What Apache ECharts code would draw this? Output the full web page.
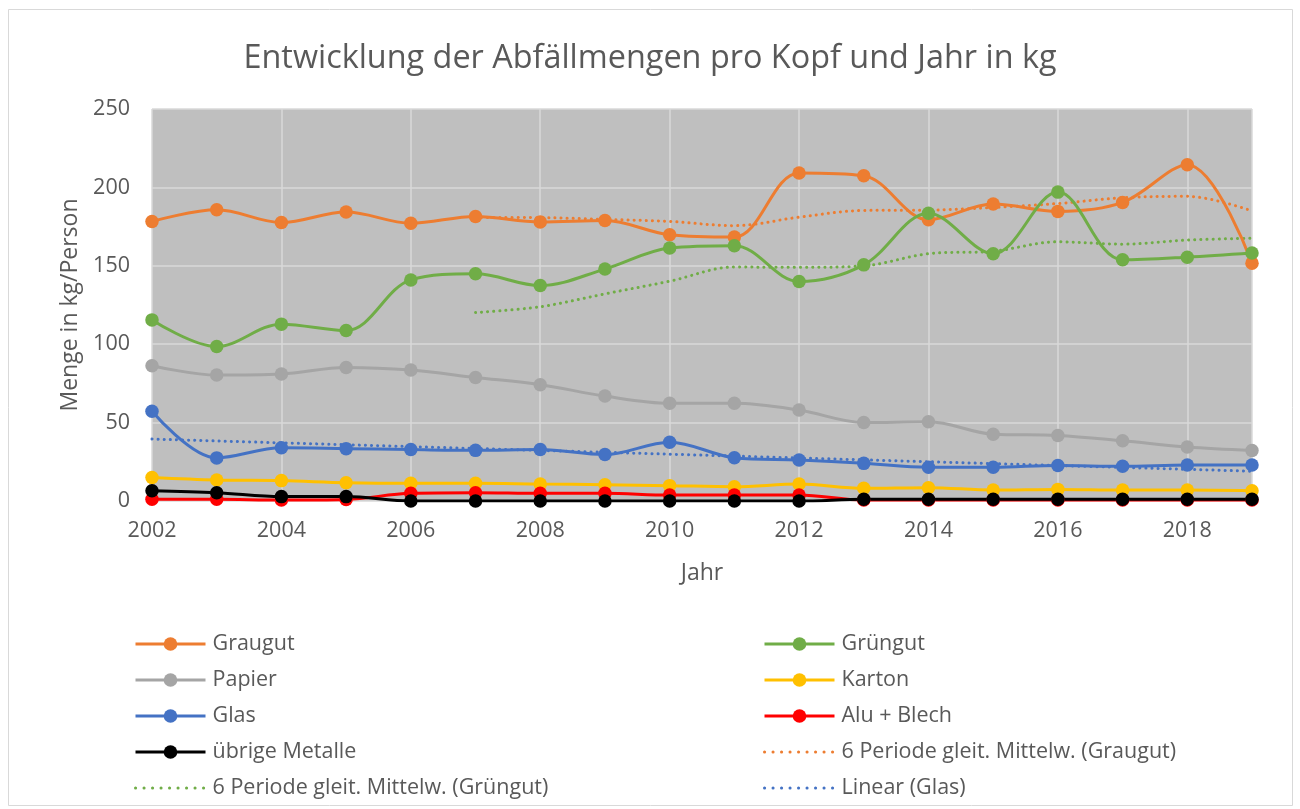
<!DOCTYPE html>
<html>
<head>
<meta charset="utf-8">
<script src="https://cdn.jsdelivr.net/npm/echarts@6/dist/echarts.min.js"></script>
<style>
html,body{margin:0;padding:0;background:#fff;}
#chart{width:1300px;height:809px;}
</style>
</head>
<body>
<div id="chart"></div>
<script>
// ---- data ----
const years = [2002,2003,2004,2005,2006,2007,2008,2009,2010,2011,2012,2013,2014,2015,2016,2017,2018,2019];
const graugut = [178.3,185.7,177.6,184.3,177.2,181.5,178,178.9,169.8,168.3,209.2,207.4,179.4,189.4,184.7,190.4,214.5,151.7];
const gruengut = [115.5,98.5,112.8,108.7,141,144.9,137.4,147.9,161.3,162.8,140,150.6,183.5,157.7,197,153.8,155.5,158.1];
const papier = [86.3,80.3,81,85.2,83.5,78.8,74.2,66.9,62.3,62.3,58,50,50.6,42.6,41.8,38.4,34.4,32.2];
const karton = [15,13.4,13,11.7,11.3,11.3,10.8,10.4,9.8,9.1,10.8,8.1,8.5,7,7.4,7,7,6.6];
const glas = [57.3,27.5,33.9,33.4,32.8,32.3,32.8,29.6,37.5,27.6,26.1,24,21.5,21.5,22.7,22.1,23,23];
const aluBlech = [1.1,1.1,0.6,1,4.9,5.3,4.9,4.9,3.8,3.8,3.8,0.6,0.6,0.6,0.6,0.6,0.6,0.6];
const uebrigeMetalle = [6.6,5.3,2.8,2.8,0,0,0,0,0,0,0,1.1,1.1,1.1,1.1,1.1,1.1,1.1];
const maGraugut = [null,null,null,null,null,180.8,180.7,179.6,178.3,175.6,181,185.3,185.5,187.2,189.7,193.4,194.3,185];
const maGruengut = [null,null,null,null,null,120.2,123.9,132.1,140.2,149.2,149,150,157.7,159.3,165.3,163.8,166.4,167.6];
const linGlasYears = [2002,2019];
const linGlas = [39.5,19];
const yTicks = {min:0,max:250,interval:50};

const FONT = 'Open Sans';
const TXT = '#595959';
const LFS = 21.5; // legend / tick font size

function pairs(xs, vs){ return xs.map((x,i)=>[x, vs[i]]); }

function mainSeries(name, color, vals){
  return {
    name: name, type:'line', data: pairs(years, vals),
    smooth: 0.35, symbol:'circle', symbolSize:13.5, showSymbol:true,
    lineStyle:{color:color, width:3}, itemStyle:{color:color},
    emphasis:{disabled:true}, z:3
  };
}
function dotSeries(name, color, xs, vals, smooth){
  return {
    name: name, type:'line', data: pairs(xs, vals),
    smooth: smooth, symbol:'none', connectNulls:false,
    lineStyle:{color:color, width:3, type:[0.1,6], cap:'round'},
    itemStyle:{color:color},
    emphasis:{disabled:true}, z:2
  };
}
function legendItem(name, dotted){
  if (dotted) return {name:name, itemStyle:{opacity:0}, lineStyle:{width:3, type:[0.1,8.4], cap:'round'}};
  return {name:name};
}

const chart = echarts.init(document.getElementById('chart'), null, {renderer:'canvas'});
const legendCommon = {
  orient:'vertical', top:633, itemWidth:70, itemHeight:17, itemGap:14, padding:0,
  lineStyle:{width:3},
  textStyle:{fontFamily:FONT, fontSize:LFS, color:TXT, padding:[0,0,0,2]}
};
const option = {
  animation:false,
  backgroundColor:'#ffffff',
  textStyle:{fontFamily:FONT},
  title:{
    text:'Entwicklung der Abfällmengen pro Kopf und Jahr in kg',
    left:'center', top:38,
    textStyle:{fontFamily:FONT, fontSize:32.4, fontWeight:'normal', color:TXT}
  },
  graphic:[{
    type:'rect', shape:{x:8.5,y:9.5,width:1284,height:796},
    style:{fill:null, stroke:'#D9D9D9', lineWidth:1}, silent:true, z:-10
  }],
  grid:{left:152, right:48, top:109, bottom:308, show:true, backgroundColor:'#BFBFBF', borderWidth:0, containLabel:false},
  xAxis:{
    type:'value', min:2002, max:2019, interval:2,
    name:'Jahr', nameLocation:'middle', nameGap:61,
    nameTextStyle:{fontFamily:FONT, fontSize:23, color:TXT},
    axisLine:{show:false}, axisTick:{show:false},
    axisLabel:{fontFamily:FONT, fontSize:LFS, color:TXT, margin:19, showMaxLabel:false, formatter:v=>String(v)},
    splitLine:{show:true, lineStyle:{color:'#D9D9D9', width:1.5}}
  },
  yAxis:{
    type:'value', min:yTicks.min, max:yTicks.max, interval:yTicks.interval,
    name:'Menge in kg/Person', nameLocation:'middle', nameGap:64,
    nameTextStyle:{fontFamily:FONT, fontSize:23, color:TXT},
    axisLine:{show:false}, axisTick:{show:false},
    axisLabel:{fontFamily:FONT, fontSize:LFS, color:TXT, margin:22},
    splitLine:{show:true, lineStyle:{color:'#D9D9D9', width:1.5}}
  },
  legend:[Object.assign({}, legendCommon, {
    left:134,
    data:[legendItem('Graugut'),legendItem('Papier'),legendItem('Glas'),legendItem('übrige Metalle'),legendItem('6 Periode gleit. Mittelw. (Grüngut)',true)]
  }), Object.assign({}, legendCommon, {
    left:763,
    data:[legendItem('Grüngut'),legendItem('Karton'),legendItem('Alu + Blech'),legendItem('6 Periode gleit. Mittelw. (Graugut)',true),legendItem('Linear (Glas)',true)]
  })],
  series:[
    dotSeries('6 Periode gleit. Mittelw. (Graugut)', '#ED7D31', years, maGraugut, 0.35),
    dotSeries('6 Periode gleit. Mittelw. (Grüngut)', '#70AD47', years, maGruengut, 0.35),
    dotSeries('Linear (Glas)', '#4472C4', linGlasYears, linGlas, false),
    mainSeries('Graugut', '#ED7D31', graugut),
    mainSeries('Grüngut', '#70AD47', gruengut),
    mainSeries('Papier', '#A5A5A5', papier),
    mainSeries('Karton', '#FFC000', karton),
    mainSeries('Glas', '#4472C4', glas),
    mainSeries('Alu + Blech', '#FF0000', aluBlech),
    mainSeries('übrige Metalle', '#000000', uebrigeMetalle)
  ]
};
chart.setOption(option);
</script>
</body>
</html>
